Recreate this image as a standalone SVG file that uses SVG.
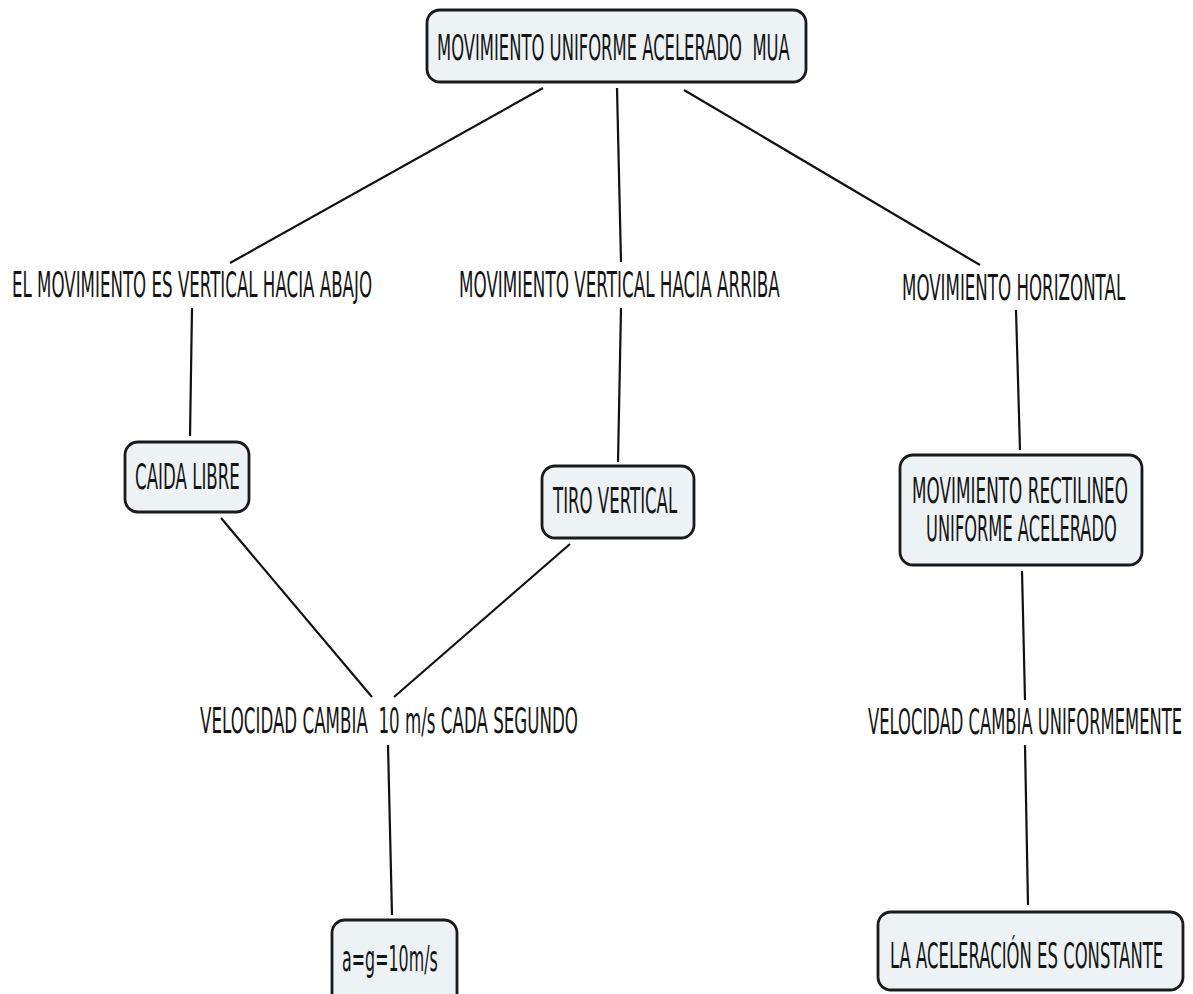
<svg xmlns="http://www.w3.org/2000/svg" width="1193" height="994" viewBox="0 0 1193 994" xml:space="preserve">
<style>
.box{fill:#edf2f5;stroke:#1a1a1a;stroke-width:2.8}
.t{font-family:"DejaVu Sans","Liberation Sans",sans-serif;font-size:35px;fill:#151515;white-space:pre}
.c line{stroke:#111;stroke-width:2.2}
</style>
<rect width="1193" height="994" fill="#ffffff"/>
<g class="c" id="connectors">
<line x1="543" y1="88" x2="230" y2="263"/>
<line x1="617" y1="88" x2="621" y2="262"/>
<line x1="684" y1="90" x2="980" y2="265"/>
<line x1="192" y1="308" x2="190" y2="436"/>
<line x1="621" y1="308" x2="618" y2="462"/>
<line x1="1016" y1="310" x2="1020" y2="450"/>
<line x1="221" y1="518" x2="372" y2="697"/>
<line x1="570" y1="544" x2="394" y2="697"/>
<line x1="388" y1="745" x2="392" y2="915"/>
<line x1="1022" y1="571" x2="1025" y2="700"/>
<line x1="1025" y1="745" x2="1028" y2="905"/>
</g>
<g id="root">
<rect class="box" x="427" y="10" width="379" height="72" rx="13"/>
<text class="t" transform="translate(437,60) scale(0.45,1)" textLength="784" lengthAdjust="spacingAndGlyphs">MOVIMIENTO UNIFORME ACELERADO  MUA</text>
</g>
<g id="lbl-abajo">
<text class="t" transform="translate(12,297) scale(0.45,1)" textLength="800" lengthAdjust="spacingAndGlyphs">EL MOVIMIENTO ES VERTICAL HACIA ABAJO</text>
</g>
<g id="lbl-arriba">
<text class="t" transform="translate(459,297) scale(0.45,1)" textLength="713" lengthAdjust="spacingAndGlyphs">MOVIMIENTO VERTICAL HACIA ARRIBA</text>
</g>
<g id="lbl-horizontal">
<text class="t" transform="translate(902,300) scale(0.45,1)" textLength="496" lengthAdjust="spacingAndGlyphs">MOVIMIENTO HORIZONTAL</text>
</g>
<g id="caida">
<rect class="box" x="125" y="442" width="124" height="70" rx="13"/>
<text class="t" transform="translate(135,489) scale(0.45,1)" textLength="233" lengthAdjust="spacingAndGlyphs">CAIDA LIBRE</text>
</g>
<g id="tiro">
<rect class="box" x="542" y="466" width="152" height="72" rx="13"/>
<text class="t" transform="translate(553,513) scale(0.45,1)" textLength="276" lengthAdjust="spacingAndGlyphs">TIRO VERTICAL</text>
</g>
<g id="mrua">
<rect class="box" x="900" y="455" width="242" height="110" rx="13"/>
<text class="t" transform="translate(912,503) scale(0.45,1)" textLength="480" lengthAdjust="spacingAndGlyphs">MOVIMIENTO RECTILINEO</text>
<text class="t" transform="translate(926,541) scale(0.45,1)" textLength="424" lengthAdjust="spacingAndGlyphs">UNIFORME ACELERADO</text>
</g>
<g id="lbl-velocidad10">
<text class="t" transform="translate(200,733) scale(0.45,1)" textLength="840" lengthAdjust="spacingAndGlyphs">VELOCIDAD CAMBIA  10 m/s CADA SEGUNDO</text>
</g>
<g id="lbl-velocidad-unif">
<text class="t" transform="translate(868,734) scale(0.45,1)" textLength="698" lengthAdjust="spacingAndGlyphs">VELOCIDAD CAMBIA UNIFORMEMENTE</text>
</g>
<g id="ag">
<rect class="box" x="332" y="920" width="125" height="90" rx="13"/>
<text class="t" transform="translate(342,971) scale(0.45,1)" textLength="213" lengthAdjust="spacingAndGlyphs">a=g=10m/s</text>
</g>
<g id="aceleracion">
<rect class="box" x="878" y="912" width="305" height="78" rx="13"/>
<text class="t" transform="translate(890,968) scale(0.45,1)" textLength="607" lengthAdjust="spacingAndGlyphs">LA ACELERACIÓN ES CONSTANTE</text>
</g>
</svg>
